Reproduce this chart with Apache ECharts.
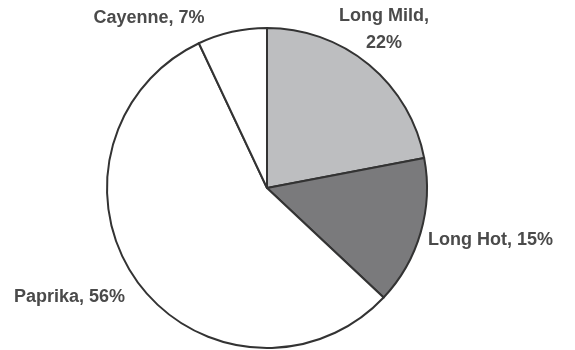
<!DOCTYPE html>
<html>
<head>
<meta charset="utf-8">
<script src="https://cdn.jsdelivr.net/npm/echarts@6/dist/echarts.min.js"></script>
<style>
  html, body { margin: 0; padding: 0; background: #fff; }
  #pie-chart { width: 575px; height: 350px; }
</style>
</head>
<body>
<div id="pie-chart"></div>
<script>
// pepper types, clockwise from 12 o'clock
const categories = ['Long Mild', 'Long Hot', 'Paprika', 'Cayenne']
const shares = [22, 15, 56, 7]
const sliceColors = ['#bdbec0', '#7a7a7c', '#ffffff', '#ffffff']

// where each label sits (text centre)
const labelSpots = [
  { x: 384, y: 30, align: 'center' },
  { x: 428, y: 240, align: 'left' },
  { x: 14, y: 297, align: 'left' },
  { x: 149, y: 18, align: 'center' }
]

const chart = echarts.init(document.getElementById('pie-chart'))

chart.setOption({
  animation: false,
  series: [{
    type: 'pie',
    center: [267, 188],
    radius: 160,
    startAngle: 90,
    clockwise: true,
    itemStyle: {
      borderColor: '#333',
      borderWidth: 2
    },
    label: {
      show: true,
      position: 'outside',
      overflow: 'none',
      width: 200,
      formatter: function (p) {
        return p.dataIndex === 0 ? p.name + ',\n' + p.value + '%' : p.name + ', ' + p.value + '%'
      },
      fontFamily: 'Liberation Sans',
      fontWeight: 'bold',
      fontSize: 18,
      lineHeight: 27,
      color: '#4a4a4a'
    },
    labelLine: { show: false },
    labelLayout: function (params) {
      const s = labelSpots[params.dataIndex]
      return { x: s.x, y: s.y, align: s.align, verticalAlign: 'middle' }
    },
    emphasis: { disabled: true },
    data: categories.map(function (name, i) {
      return { name: name, value: shares[i], itemStyle: { color: sliceColors[i] } }
    })
  }]
})
</script>
</body>
</html>
